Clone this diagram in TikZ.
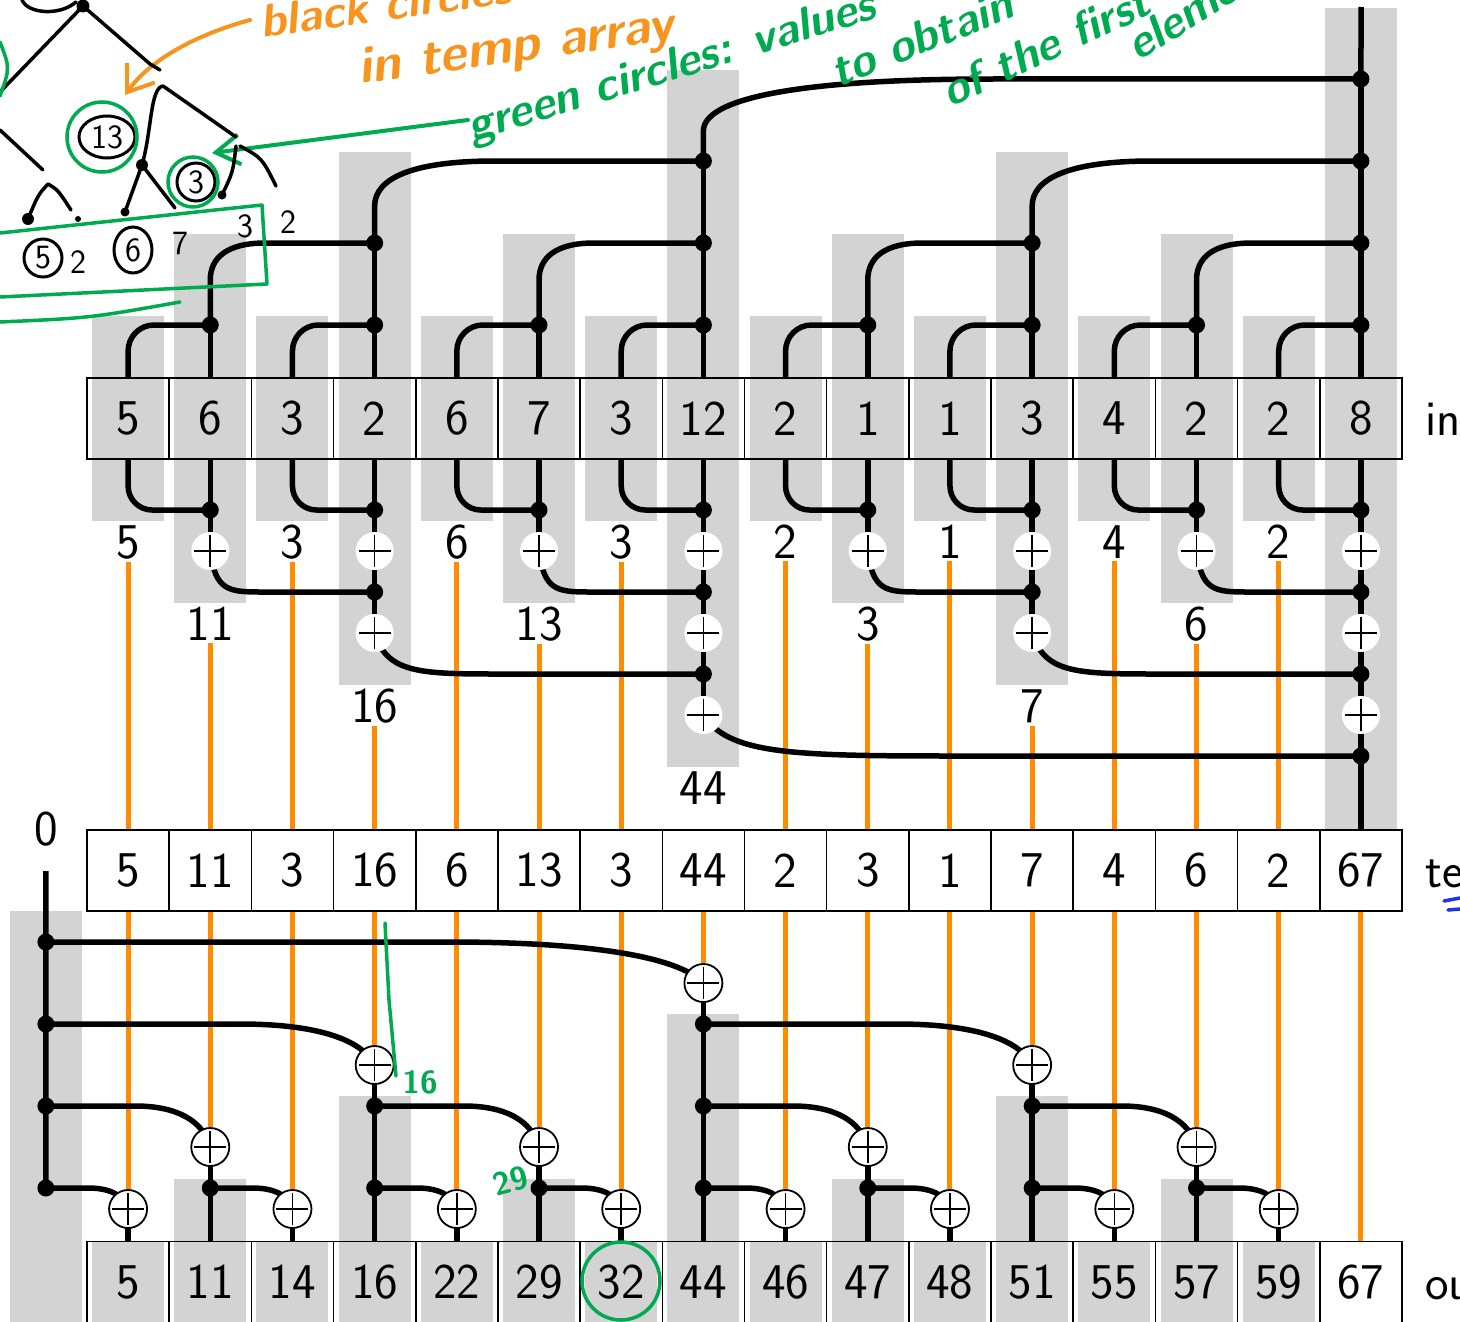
\documentclass[tikz,border=0pt]{standalone}
\usepackage{fontspec}
\usetikzlibrary{calc,arrows.meta,shapes.geometric}
\definecolor{bargray}{RGB}{211,211,211}
\definecolor{wireorange}{RGB}{255,140,0}
\definecolor{handorange}{RGB}{247,148,29}
\definecolor{handgreen}{RGB}{0,170,80}
\definecolor{handblue}{RGB}{30,50,230}
\pgfdeclarelayer{bars}
\pgfdeclarelayer{orangewires}
\pgfdeclarelayer{wires}
\pgfsetlayers{bars,orangewires,wires,main}
\newcommand\numfont{\fontsize{50}{60}\selectfont\sffamily}
\newcommand\handfont{\fontsize{46}{54}\selectfont\sffamily\bfseries\itshape}
\newcommand\handsmall{\fontsize{34}{40}\selectfont\sffamily}
\begin{document}
\begin{tikzpicture}[x=1pt,y=-1pt,
  cellbox/.style={draw,line width=1.6pt,minimum width=82.19pt,minimum height=81pt,inner sep=0pt,font=\numfont},
  tempcell/.style={cellbox,fill=white},
  numlabel/.style={font=\numfont,inner sep=3pt,anchor=base},
  sidelabel/.style={font=\numfont,inner sep=0pt,anchor=base west},
  dotnode/.style={circle,fill=black,inner sep=0pt,minimum size=17pt},
  plusup/.style={circle,fill=white,inner sep=0pt,minimum size=38pt,
    path picture={\draw[line width=1.6pt]
      ([xshift=-16pt]path picture bounding box.center) -- ([xshift=16pt]path picture bounding box.center)
      ([yshift=-16pt]path picture bounding box.center) -- ([yshift=16pt]path picture bounding box.center);}},
  plusdown/.style={plusup,draw,line width=1.8pt},
  wire/.style={line width=5.5pt},
  orangewire/.style={draw=wireorange,line width=5pt},
  hand/.style={line width=3.5pt,line cap=round,line join=round},
  handg/.style={hand,draw=handgreen},
  hando/.style={hand,draw=handorange},
  handtext/.style={font=\handfont,inner sep=0pt,anchor=base west},
  handnum/.style={font=\handsmall,inner sep=0pt},
  handdot/.style={circle,fill=black,inner sep=0pt},
]
\useasboundingbox (0,0) rectangle (1460,1322);
\clip (0,0) rectangle (1460,1322);

% ---------- gray bars ----------
\begin{pgfonlayer}{bars}
  \foreach \c/\t/\b in {0/316/521,2/316/521,4/316/521,6/316/521,8/316/521,10/316/521,12/316/521,14/316/521,
      1/234/603,5/234/603,9/234/603,13/234/603,3/152/685,11/152/685,7/70/767,15/8/830,
      -1/911/1322,7/1014/1322,3/1096/1322,11/1096/1322,1/1179/1322,5/1179/1322,9/1179/1322,13/1179/1322,
      0/1242/1322,2/1242/1322,4/1242/1322,6/1242/1322,8/1242/1322,10/1242/1322,12/1242/1322,14/1242/1322}
    \fill[bargray] ({128.09+82.1875*(\c)-36},\t) rectangle ({128.09+82.1875*(\c)+36},\b);
\end{pgfonlayer}

% ---------- arrays ----------
\foreach \v [count=\i from 0] in {5,6,3,2,6,7,3,12,2,1,1,3,4,2,2,8}
  \node[cellbox] (in\i) at ({128.09+82.1875*\i},418.5) {\v};
\foreach \v [count=\i from 0] in {5,11,3,16,6,13,3,44,2,3,1,7,4,6,2,67}
  \node[tempcell] (tp\i) at ({128.09+82.1875*\i},870.5) {\v};
\foreach \v [count=\i from 0] in {5,11,14,16,22,29,32,44,46,47,48,51,55,57,59,67}
  \node[cellbox] (out\i) at ({128.09+82.1875*\i},1282) {\v};

\node[sidelabel] (inname) at (1425,435.5) {in};
\node[sidelabel] (tempname) at (1425,887.5) {temp};
\node[sidelabel] (outname) at (1425,1299) {out};

% ---------- up-sweep nodes ----------
\foreach \d in {1,2,3,4} {
  \pgfmathtruncatemacro\s{2^(\d-1)}
  \pgfmathtruncatemacro\np{8/\s-1}
  \pgfmathsetmacro\ya{407-82*\d}
  \pgfmathsetmacro\yb{428+82*\d}
  \foreach \k in {0,...,\np} {
    \pgfmathtruncatemacro\R{\k*2*\s+2*\s-1}
    \pgfmathsetmacro\xR{128.09+82.1875*\R}
    \node[dotnode] (ua\R-\d) at (\xR,\ya) {};
    \node[dotnode] (ub\R-\d) at (\xR,\yb) {};
    \ifnum\d<4 \node[plusup] (pu\R-\d) at (\xR,\yb+41) {};\fi
  }
}
\coordinate (top15) at (1361.1,7);

% partial sums written under the up-sweep
\foreach \c/\v/\d in {0/5/1,2/3/1,4/6/1,6/3/1,8/2/1,10/1/1,12/4/1,14/2/1,1/11/2,5/13/2,9/3/2,13/6/2,3/16/3,11/7/3,7/44/4}
  \node[numlabel] (lab\c) at ({128.09+82.1875*\c},{476+82*\d}) {\v};

% ---------- down-sweep nodes ----------
\node[numlabel] (zero) at (45.9,845) {0};
\coordinate (ztop) at (45.9,871);
\foreach \e in {4,3,2,1} {
  \pgfmathtruncatemacro\s{2^(\e-1)}
  \pgfmathtruncatemacro\np{8/\s-1}
  \pgfmathsetmacro\yd{1270-82*\e}
  \pgfmathsetmacro\yp{\e==1 ? 1209 : \yd+41}
  \foreach \k in {0,...,\np} {
    \pgfmathtruncatemacro\S{\k*2*\s-1}
    \pgfmathtruncatemacro\T{\S+\s}
    \node[dotnode] (dd\S-\e) at ({128.09+82.1875*(\S)},\yd) {};
    \node[plusdown] (pd\T) at ({128.09+82.1875*\T},\yp) {};
  }
}

% ---------- orange wires ----------
\begin{pgfonlayer}{orangewires}
  \foreach \c in {0,1,2,3,4,5,6,8,9,10,11,12,13,14}
    \draw[orangewire] (lab\c.south) -- (tp\c.north);
  \foreach \c in {0,...,14}
    \draw[orangewire] (tp\c.south) -- (pd\c.north);
  \draw[orangewire] (tp15.south) -- (out15.north);
\end{pgfonlayer}

% ---------- black wires ----------
\begin{pgfonlayer}{wires}
\foreach \d in {1,2,3,4} {
  \pgfmathtruncatemacro\s{2^(\d-1)}
  \pgfmathtruncatemacro\np{8/\s-1}
  \pgfmathtruncatemacro\dm{\d-1}
  \pgfmathsetmacro\ya{407-82*\d}
  \pgfmathsetmacro\yb{428+82*\d}
  \pgfmathsetmacro\hT{{0,0,37,45,52}[\d]}
  \pgfmathsetmacro\cT{{0,0,55,120,290}[\d]}
  \pgfmathsetmacro\cB{{0,0,50,120,250}[\d]}
  \foreach \k in {0,...,\np} {
    \pgfmathtruncatemacro\R{\k*2*\s+2*\s-1}
    \pgfmathtruncatemacro\L{\R-\s}
    \pgfmathsetmacro\xL{128.09+82.1875*\L}
    \ifnum\d=1
      \draw[wire,rounded corners=26pt] (in\L.north) |- (ua\R-1.center);
      \draw[wire,rounded corners=24pt] (in\L.south) |- (ub\R-1.center);
      \draw[wire] (in\R.north) -- (ua\R-1.center);
      \draw[wire] (in\R.south) -- (pu\R-1.center);
    \else
      \draw[wire] (ua\L-\dm.center) -- (\xL,\ya+\hT)
        .. controls (\xL,\ya+0.4*\hT) and (\xL+0.3*\cT,\ya) .. (\xL+\cT,\ya) -- (ua\R-\d.center);
      \draw[wire] (pu\L-\dm.center)
        .. controls (\xL+0.1*\cB,\yb-2) and (\xL+0.35*\cB,\yb) .. (\xL+\cB,\yb) -- (ub\R-\d.center);
      \draw[wire] (ua\R-\dm.center) -- (ua\R-\d.center);
      \ifnum\d<4
        \draw[wire] (pu\R-\dm.center) -- (pu\R-\d.center);
      \else
        \draw[wire] (pu\R-\dm.center) -- (tp\R.north);
      \fi
    \fi
  }
}
\draw[wire] (ua15-4.center) -- (top15);

\foreach \e in {4,3,2,1} {
  \pgfmathtruncatemacro\s{2^(\e-1)}
  \pgfmathtruncatemacro\np{8/\s-1}
  \pgfmathsetmacro\yd{1270-82*\e}
  \pgfmathsetmacro\yp{\e==1 ? 1209 : \yd+41}
  \pgfmathsetmacro\cD{{0,40,75,135,255}[\e]}
  \pgfmathsetmacro\yc{\yd+0.35*(\yp-\yd)}
  \foreach \k in {0,...,\np} {
    \pgfmathtruncatemacro\S{\k*2*\s-1}
    \pgfmathtruncatemacro\T{\S+\s}
    \pgfmathsetmacro\xT{128.09+82.1875*\T}
    \draw[wire] (dd\S-\e.center) -- (\xT-\cD,\yd)
      .. controls (\xT-0.45*\cD,\yd) and (\xT-0.1*\cD,\yc) .. (pd\T.center);
    \draw[wire] (pd\T.center) -- (out\T.north);
  }
}
\draw[wire] (ztop) -- (dd-1-1.center);
\end{pgfonlayer}

% ---------- handwritten annotations ----------
\node[handtext,text=handorange,rotate=8] (annA) at (262,38) {black circles};
\node[handtext,text=handorange,rotate=8,font=\fontsize{52}{60}\selectfont\sffamily\bfseries\itshape] (annB) at (360,84) {in temp array};
\draw[hando,line width=4pt,-{Straight Barb[length=24pt,width=34pt]}] (250,20) .. controls (195,35) and (150,60) .. (125,95);

\node[handtext,text=handgreen,rotate=17] (annC) at (472,142) {green circles: values};
\node[handtext,text=handgreen,rotate=22] (annD) at (838,88) {to obtain};
\node[handtext,text=handgreen,rotate=25] (annE) at (950,108) {of the first};
\node[handtext,text=handgreen,rotate=32] (annF) at (1138,62) {element};
\draw[handg,line width=4pt,-{Straight Barb[length=24pt,width=30pt]}] (468,120) -- (212,153);

% tree sketch
\draw[hand] (22,0) .. controls (28,14) and (60,16) .. (76,2);
\node[handdot,minimum size=13pt] (tA) at (83,6) {};
\draw[hand] (tA.center) -- (0,92);
\draw[hand] (tA.center) -- (150,64) -- (160,70);
\draw[hand] (0,130) -- (43,170);
\node[handnum,draw,ellipse,line width=3pt,minimum width=56pt,minimum height=42pt] (t13) at (107,137) {13};
\node[circle,draw=handgreen,line width=3.5pt,minimum size=70pt] (g13) at (102,137) {};
\node[handdot,minimum size=12pt] (tB) at (142,165) {};
\draw[hand] (tB.center) .. controls (152,130) and (150,88) .. (163,86) -- (236,137);
\node[handdot,minimum size=9pt] (tC) at (125,212) {};
\draw[hand] (tB.center) -- (tC.center);
\draw[hand] (tB.center) -- (175,208);
\node[handnum,draw,circle,line width=3pt,minimum size=38pt] (t3) at (196,182) {3};
\node[circle,draw=handgreen,line width=3.5pt,minimum size=50pt] (g3) at (193,182) {};
\node[handdot,minimum size=9pt] (tD) at (222,195) {};
\draw[hand] (236,146) .. controls (233,172) .. (tD.center);
\draw[hand] (240,146) .. controls (262,158) .. (276,186);
\node[handdot,minimum size=12pt] (tE) at (28,219) {};
\draw[hand] (tE.center) .. controls (38,195) .. (48,184) .. controls (58,190) .. (71,210);
\node[handdot,minimum size=6pt] (tF) at (78,219) {};
\node[handnum,draw,circle,line width=3pt,minimum size=38pt] (t5) at (43,258) {5};
\node[handnum] (t2a) at (78,262) {2};
\node[handnum,draw,ellipse,line width=3pt,minimum width=38pt,minimum height=46pt] (t6) at (133,250) {6};
\node[handnum] (t7) at (180,243) {7};
\node[handnum] (t3b) at (245,226) {3};
\node[handnum] (t2b) at (288,222) {2};
\draw[handg] (0,233) -- (262,205) -- (267,284) -- (0,297);
\draw[handg] (0,322) .. controls (90,318) .. (180,302);
\draw[handg] (0,42) .. controls (10,68) .. (0,96);

% marks on the lower part
\draw[handg] (385,923) -- (389,1000) -- (396,1076);
\node[handnum,text=handgreen,font=\fontsize{32}{36}\selectfont\sffamily\bfseries] (g16) at (420,1082) {16};
\node[handnum,text=handgreen,rotate=15,font=\fontsize{32}{36}\selectfont\sffamily\bfseries] (g29) at (511,1181) {29};
\draw[handg] (621,1281) circle (39pt);
\draw[hand,draw=handblue] (1444,901) -- (1460,898) (1448,910) -- (1460,909);
\end{tikzpicture}
\end{document}
